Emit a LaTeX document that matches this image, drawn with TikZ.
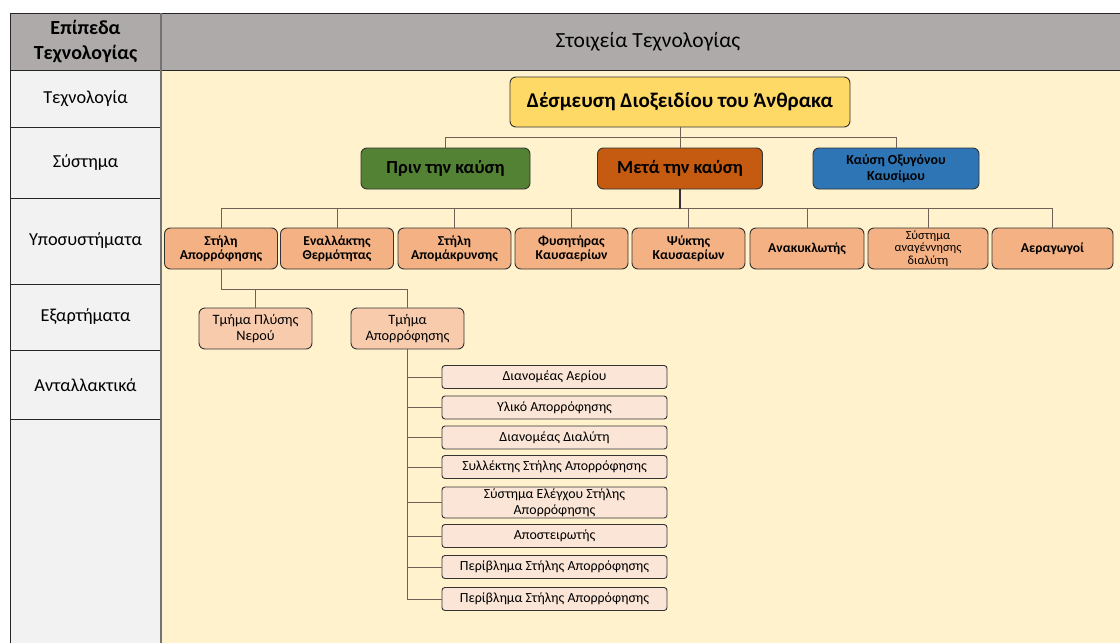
\documentclass[tikz,border=0pt]{standalone}
\usepackage{fontspec}
\setmainfont{Carlito}
\definecolor{hdr}{HTML}{AEAAAA}
\definecolor{lbg}{HTML}{F2F2F2}
\definecolor{rbg}{HTML}{FFF2CC}
\definecolor{topc}{HTML}{FFD966}
\definecolor{grn}{HTML}{548235}
\definecolor{org}{HTML}{C55A11}
\definecolor{blu}{HTML}{2E75B6}
\definecolor{subc}{HTML}{F4B183}
\definecolor{cmpc}{HTML}{F8CBAD}
\definecolor{lstc}{HTML}{FBE5D6}
\definecolor{conn}{HTML}{6E6258}
\begin{document}
\begin{tikzpicture}[x=1pt,y=-1pt,
  box/.style={draw=black!80, line width=0.9pt, rounded corners=6pt, align=center, inner sep=1pt},
  topbox/.style={box, fill=topc, minimum width=340pt, minimum height=50pt, font=\bfseries\fontsize{21}{24}\selectfont},
  sysbox/.style={box, minimum width=166pt, minimum height=41pt, font=\bfseries\fontsize{18.4}{20}\selectfont},
  subbox/.style={box, fill=subc, minimum width=113pt, minimum height=41pt, font=\bfseries\fontsize{13.6}{14.5}\selectfont},
  cmpbox/.style={box, fill=cmpc, minimum width=113pt, minimum height=41pt, font=\fontsize{14.3}{16}\selectfont},
  lstbox/.style={box, rounded corners=3pt, fill=lstc, minimum width=225pt, minimum height=23pt, font=\fontsize{13.9}{15}\selectfont},
  lvl/.style={font=\fontsize{18.3}{21}\selectfont, align=center},
  cline/.style={draw=conn, line width=1pt},
  frame/.style={draw=black!85, line width=1pt}
]
\useasboundingbox (0,0) rectangle (1120,643);
\fill[white] (0,0) rectangle (1120,643);
% backgrounds
\fill[rbg] (161,70) rectangle (1120,643);
\fill[lbg] (10,70) rectangle (161,643);
\fill[hdr] (10,13) rectangle (1120,70);
% frame lines
\draw[frame] (10,643) -- (10,13) -- (1120,13);
\draw[frame] (10,70) -- (1120,70);
\foreach \yy in {127,198,284,350,419} \draw[frame] (10,\yy) -- (161,\yy);
\draw[draw=black!55, line width=1.6pt] (161,13) -- (161,643);

% header texts
\node[lvl, font=\bfseries\fontsize{20}{25}\selectfont] (hl) at (85.5,42) {Επίπεδα\\Τεχνολογίας};
\node[font=\fontsize{21.5}{24}\selectfont] (hr) at (648,42) {Στοιχεία Τεχνολογίας};

% level labels
\node[lvl] (l1) at (85.5,99) {Τεχνολογία};
\node[lvl] (l2) at (85.5,163) {Σύστημα};
\node[lvl] (l3) at (85.5,241) {Υποσυστήματα};
\node[lvl] (l4) at (85.5,317) {Εξαρτήματα};
\node[lvl] (l5) at (85.5,385) {Ανταλλακτικά};

% technology
\node[topbox] (top) at (680,102) {Δέσμευση Διοξειδίου του Άνθρακα};

% systems
\node[sysbox, fill=grn, minimum width=169pt] (pre) at (445.5,168.5) {Πριν την καύση};
\node[sysbox, fill=org, minimum width=165pt] (post) at (680,168.5) {Μετά την καύση};
\node[sysbox, fill=blu, font=\bfseries\fontsize{13.9}{16}\selectfont] (oxy) at (896,168.5) {Καύση Οξυγόνου\\Καυσίμου};

\draw[cline] (top.south) -- ++(0,10) -| (pre.north);
\draw[cline] (top.south) -- ++(0,10) -| (oxy.north);
\draw[cline] (top.south) -- (post.north);

% subsystems
\node[subbox] (s1) at (221,248.5) {Στήλη\\Απορρόφησης};
\node[subbox] (s2) at (337,248.5) {Εναλλάκτης\\Θερμότητας};
\node[subbox] (s3) at (454.5,248.5) {Στήλη\\Απομάκρυνσης};
\node[subbox] (s4) at (571.5,248.5) {Φυσητήρας\\Καυσαερίων};
\node[subbox] (s5) at (688.5,248.5) {Ψύκτης\\Καυσαερίων};
\node[subbox, minimum width=114pt] (s6) at (807,248.5) {Ανακυκλωτής};
\node[subbox, minimum width=120pt, font=\fontsize{12.4}{12.8}\selectfont] (s7) at (928,248.5) {Σύστημα\\αναγέννησης\\διαλύτη};
\node[subbox, minimum width=121pt] (s8) at (1052.5,248.5) {Αεραγωγοί};

\foreach \s in {s1,s2,s3,s4,s5,s6,s7,s8}
  \draw[cline] (post.south) -- ++(0,19.5) -| (\s.north);
\draw[cline, line width=1.4pt, draw=black!80] (post.south) -- ++(0,19.5);

% components
\node[cmpbox] (c1) at (255.5,328.5) {Τμήμα Πλύσης\\Νερού};
\node[cmpbox] (c2) at (407.5,328.5) {Τμήμα\\Απορρόφησης};
\draw[cline] (s1.south) -- ++(0,20) -| (c1.north);
\draw[cline] (s1.south) -- ++(0,20) -| (c2.north);

% spare parts
\node[lstbox] (p1) at (554.5,377) {Διανομέας Αερίου};
\node[lstbox] (p2) at (554.5,407.5) {Υλικό Απορρόφησης};
\node[lstbox] (p3) at (554.5,437.5) {Διανομέας Διαλύτη};
\node[lstbox] (p4) at (554.5,467) {Συλλέκτης Στήλης Απορρόφησης};
\node[lstbox, minimum height=31pt, font=\fontsize{13.9}{15.5}\selectfont] (p5) at (554.5,502.5) {Σύστημα Ελέγχου Στήλης\\Απορρόφησης};
\node[lstbox] (p6) at (554.5,536) {Αποστειρωτής};
\node[lstbox] (p7) at (554.5,567) {Περίβλημα Στήλης Απορρόφησης};
\node[lstbox] (p8) at (554.5,599) {Περίβλημα Στήλης Απορρόφησης};
\foreach \p in {p1,p2,p3,p4,p5,p6,p7,p8}
  \draw[cline] (c2.south) |- (\p.west);
\end{tikzpicture}
\end{document}
